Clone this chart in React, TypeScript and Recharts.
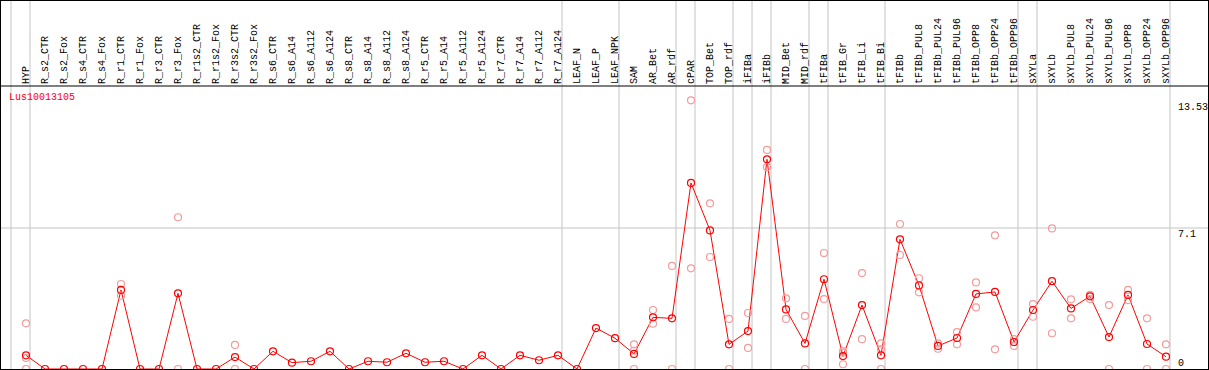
import { ComposedChart, Line, XAxis, YAxis, ReferenceLine } from "recharts";

const categories = [
  "HYP", "R_s2_CTR", "R_s2_Fox", "R_s4_CTR", "R_s4_Fox", "R_r1_CTR", "R_r1_Fox", "R_r3_CTR", "R_r3_Fox",
  "R_r1s2_CTR", "R_r1s2_Fox", "R_r3s2_CTR", "R_r3s2_Fox", "R_s6_CTR", "R_s6_A14", "R_s6_A112", "R_s6_A124",
  "R_s8_CTR", "R_s8_A14", "R_s8_A112", "R_s8_A124", "R_r5_CTR", "R_r5_A14", "R_r5_A112", "R_r5_A124",
  "R_r7_CTR", "R_r7_A14", "R_r7_A112", "R_r7_A124", "LEAF_N", "LEAF_P", "LEAF_NPK", "SAM", "AR_Bet", "AR_rdf",
  "cPAR", "TOP_Bet", "TOP_rdf", "iFIBa", "iFIBb", "MID_Bet", "MID_rdf", "tFIBa", "tFIB_Gr", "tFIB_Li", "tFIB_Bi",
  "tFIBb", "tFIBb_PUL8", "tFIBb_PUL24", "tFIBb_PUL96", "tFIBb_OPP8", "tFIBb_OPP24", "tFIBb_OPP96",
  "sXYLa", "sXYLb", "sXYLb_PUL8", "sXYLb_PUL24", "sXYLb_PUL96", "sXYLb_OPP8", "sXYLb_OPP24", "sXYLb_OPP96",
];

// how many samples sit in each tissue group (separated by grey lines)
const groupSizes = [1, 28, 3, 3, 1, 2, 1, 1, 2, 1, 3, 7, 1, 7];

const meanValues = [
  0.69, 0, 0, 0, 0, 3.98, 0, 0, 3.81,
  0, 0, 0.6, 0, 0.89, 0.32, 0.39, 0.89,
  0, 0.39, 0.34, 0.79, 0.34, 0.39, 0, 0.69,
  0, 0.69, 0.44, 0.69, 0, 2.06, 1.55, 0.76, 2.6, 2.55,
  9.37, 6.98, 1.24, 1.91, 10.56, 3.0, 1.29, 4.52, 0.65, 3.22, 0.69,
  6.53, 4.21, 1.16, 1.56, 3.78, 3.88, 1.36,
  2.97, 4.42, 3.05, 3.66, 1.61, 3.73, 1.26, 0.62,
];

const rep1 = [
  2.3, null, null, null, null, 4.28, null, null, 7.64,
  null, null, 1.21, null, null, null, null, null,
  null, null, null, null, null, null, null, null,
  null, null, null, null, null, null, null, 1.24, 2.97, 5.19,
  13.53, 8.34, 2.52, 2.82, 11.03, 3.56, 2.67, 5.84, 0.82, 4.83, 1.29,
  7.3, 4.57, 1.29, 1.86, 4.36, 6.73, 1.5,
  3.27, 7.08, 3.51, 3.73, 3.22, 3.98, 2.55, 1.24,
];

const rep2 = [
  0.55, null, null, null, null, 3.69, null, null, 0,
  null, null, 0, null, null, null, null, null,
  null, null, null, null, null, null, null, null,
  null, null, null, null, null, null, null, 0.92, 2.28, 0,
  5.07, 5.64, 0, 1.06, 10.16, 2.52, 0, 3.52, 0.24, 1.5, 0.99,
  5.74, 3.86, 1.02, 1.24, 3.1, 0.99, 1.16,
  2.63, 1.8, 2.55, 3.52, 0, 3.47, 0, 0,
];

const rep3 = [
  0, null, null, null, null, null, null, null, null,
  null, null, null, null, null, null, null, null,
  null, null, null, null, null, null, null, null,
  null, null, null, null, null, null, null, 0, null, null,
  null, null, null, null, null, null, null, null, 0.89, null, 0,
  null, null, null, null, null, null, null,
  null, null, null, null, null, null, null, null,
];

const yTicks = [0, 7.1, 13.53];

const data = categories.map((name, i) => ({
  idx: i,
  name,
  mean: meanValues[i],
  r1: rep1[i],
  r2: rep2[i],
  r3: rep3[i],
}));

const separators: number[] = [0];
groupSizes.forEach((n) => separators.push(separators[separators.length - 1] + n));

const FONT = "'Liberation Mono', 'DejaVu Sans Mono', monospace";
const RED = "#ff0000";
const PINK = "#f29c9c";
const GRID = "#c4c4c4";

// each sample slot is 19px wide, point sits 15px into the slot
const SLOT_OFFSET = 15 / 19;
const X_DOMAIN: [number, number] = [-25 / 19, 1182 / 19];
const Y_TOP = 18.58;
const HEADER_LINE = 14.25;

const SampleTick = (props: any) => {
  const { x, payload } = props;
  const tx = x + 3;
  return (
    <text
      x={tx}
      y={84}
      transform={`rotate(-90, ${tx}, 84)`}
      textAnchor="start"
      fontFamily={FONT}
      fontSize={10}
      fill="#000"
    >
      {categories[payload.value]}
    </text>
  );
};

const ValueTick = (props: any) => {
  const { y, payload } = props;
  const isZero = payload.value === 0;
  return (
    <text x={1178} y={isZero ? y - 3 : y + 9.5} fontFamily={FONT} fontSize={10} fill="#000">
      {String(payload.value)}
    </text>
  );
};

const dotStyle = (color: string) => ({ r: 3.5, stroke: color, strokeWidth: 1.2, fill: "none" });

export default function App() {
  return (
    <div style={{ position: "absolute", left: 0, top: 0, width: 1209, height: 370, background: "#fff" }}>
      <ComposedChart width={1209} height={370} data={data} margin={{ top: 0, right: 1, bottom: 1, left: 1 }}>
        <XAxis
          dataKey="idx"
          type="number"
          domain={X_DOMAIN}
          allowDataOverflow
          orientation="top"
          mirror
          ticks={categories.map((_, i) => i)}
          interval={0}
          tick={<SampleTick />}
          tickLine={false}
          axisLine={false}
        />
        <YAxis
          orientation="right"
          mirror
          domain={[0, Y_TOP]}
          allowDataOverflow
          ticks={yTicks}
          interval={0}
          tick={<ValueTick />}
          tickLine={false}
          axisLine={false}
        />
        {separators.map((s) => (
          <ReferenceLine key={`sep-${s}`} x={s - SLOT_OFFSET} stroke={GRID} strokeWidth={1} />
        ))}
        <ReferenceLine y={7.1} stroke={GRID} strokeWidth={1} />
        <ReferenceLine y={HEADER_LINE} stroke="#000" strokeWidth={1.2} />
        <Line dataKey="r1" stroke="none" dot={dotStyle(PINK)} activeDot={false} isAnimationActive={false} />
        <Line dataKey="r2" stroke="none" dot={dotStyle(PINK)} activeDot={false} isAnimationActive={false} />
        <Line dataKey="r3" stroke="none" dot={dotStyle(PINK)} activeDot={false} isAnimationActive={false} />
        <Line
          dataKey="mean"
          stroke={RED}
          strokeWidth={1}
          dot={dotStyle(RED)}
          activeDot={false}
          isAnimationActive={false}
        />
      </ComposedChart>
      <div
        style={{
          position: "absolute",
          left: 9,
          top: 93,
          fontFamily: FONT,
          fontSize: 10,
          lineHeight: "10px",
          color: RED,
        }}
      >
        Lus10013105
      </div>
      <div
        style={{
          position: "absolute",
          left: 0,
          top: 0,
          width: 1209,
          height: 370,
          boxSizing: "border-box",
          border: "1px solid #000",
          pointerEvents: "none",
        }}
      />
    </div>
  );
}
